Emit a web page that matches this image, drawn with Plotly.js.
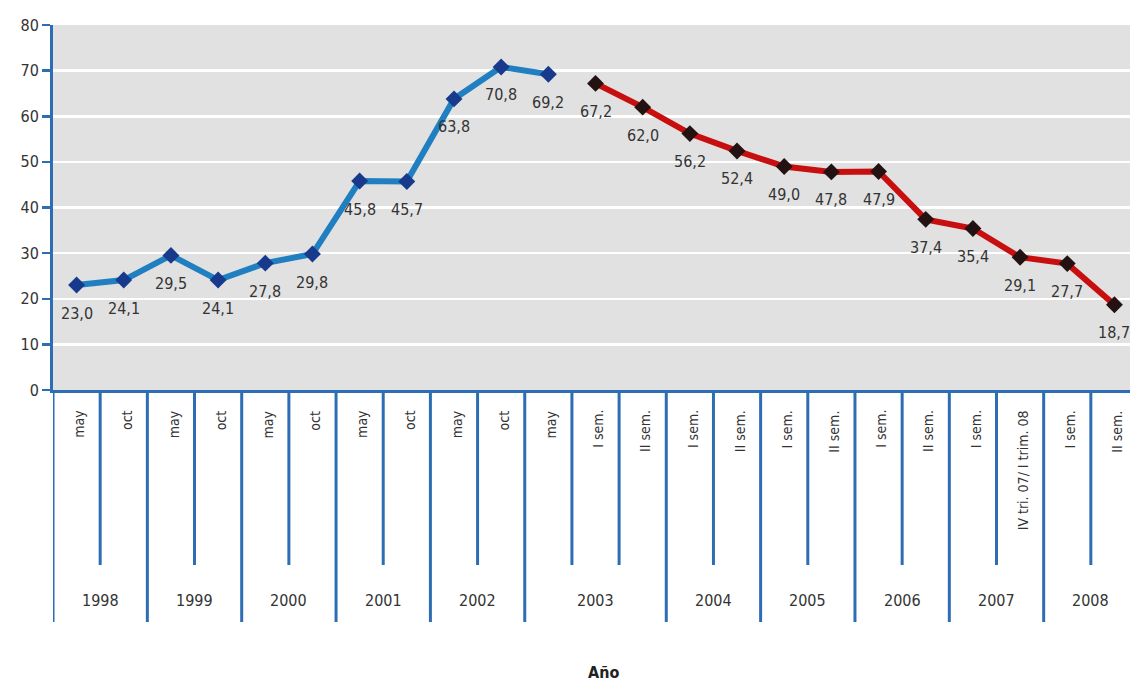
<!DOCTYPE html>
<html>
<head>
<meta charset="utf-8">
<script src="https://cdn.plot.ly/plotly-3.0.1.min.js"></script>
<style>html,body{margin:0;padding:0;background:#fff;}#chart{width:1130px;height:684px;}</style>
</head>
<body>
<div id="chart"></div>
<script>
// Categories (year group + sub-period label)
const years = ["1998","1998","1999","1999","2000","2000","2001","2001","2002","2002","2003","2003","2003","2004","2004","2005","2005","2006","2006","2007","2007","2008","2008"];
const periods = ["may","oct","may","oct","may","oct","may","oct","may","oct","may","I sem.","II sem.","I sem.","II sem.","I sem.","II sem.","I sem.","II sem.","I sem.","IV tri. 07/ I trim. 08","I sem.","II sem."];
// Series 1 (blue): indices 0..10
const blueIdx = [0,1,2,3,4,5,6,7,8,9,10];
const blueVals = [23.0,24.1,29.5,24.1,27.8,29.8,45.8,45.7,63.8,70.8,69.2];
// Series 2 (red): indices 11..22
const redIdx = [11,12,13,14,15,16,17,18,19,20,21,22];
const redVals = [67.2,62.0,56.2,52.4,49.0,47.8,47.9,37.4,35.4,29.1,27.7,18.7];
const yTicks = [0,10,20,30,40,50,60,70,80];

const FONT = "'Liberation Sans Narrow','DejaVu Sans Condensed','Arial Narrow',sans-serif";
const AXBLUE = "#2d6db3";
const fmt = v => v.toFixed(1).replace('.', ',');

const traces = [
  {x: blueIdx, y: blueVals, type: 'scatter', mode: 'lines+markers',
   line: {color: '#1f7fc1', width: 6},
   marker: {symbol: 'diamond', size: 13, color: '#173a8c'}, cliponaxis: false},
  {x: redIdx, y: redVals, type: 'scatter', mode: 'lines+markers',
   line: {color: '#c80f0f', width: 6},
   marker: {symbol: 'diamond', size: 13, color: '#241212'}, cliponaxis: false}
];

const annotations = [];
blueIdx.forEach((xi, k) => annotations.push({x: xi, y: blueVals[k], xref: 'x', yref: 'y', text: fmt(blueVals[k]), showarrow: false, yshift: -28, font: {family: FONT, size: 16, color: '#333'}}));
redIdx.forEach((xi, k) => annotations.push({x: xi, y: redVals[k], xref: 'x', yref: 'y', text: fmt(redVals[k]), showarrow: false, yshift: -28, font: {family: FONT, size: 16, color: '#333'}}));

// Period labels (rotated)
periods.forEach((p, i) => annotations.push({x: i, xref: 'x', y: -0.05, yref: 'paper', text: p, textangle: -90, showarrow: false, xanchor: 'center', yanchor: 'top', xshift: 3, font: {family: FONT, size: 14, color: '#333'}}));

// Year labels + boundary shapes
const shapes = [];
const plotH = 365;
const yrBottom = -232 / plotH, subBottom = -175 / plotH;
let start = 0;
for (let i = 1; i <= years.length; i++) {
  if (i === years.length || years[i] !== years[start]) {
    annotations.push({x: (start + i - 1) / 2, xref: 'x', y: -210 / plotH, yref: 'paper', text: years[start], showarrow: false, xanchor: 'center', yanchor: 'middle', font: {family: FONT, size: 16, color: '#333'}});
    shapes.push({type: 'line', xref: 'x', yref: 'paper', x0: start - 0.5, x1: start - 0.5, y0: 0, y1: yrBottom, line: {color: AXBLUE, width: 3}});
    for (let j = start + 1; j < i; j++) {
      shapes.push({type: 'line', xref: 'x', yref: 'paper', x0: j - 0.5, x1: j - 0.5, y0: 0, y1: subBottom, line: {color: AXBLUE, width: 3}});
    }
    start = i;
  }
}
annotations.push({x: 0.511, xref: 'paper', y: -282 / plotH, yref: 'paper', text: '<b>Año</b>', showarrow: false, xanchor: 'center', yanchor: 'middle', font: {family: FONT, size: 16, color: '#222'}});

const layout = {
  width: 1130, height: 684,
  margin: {l: 53, r: 0, t: 25, b: 294},
  paper_bgcolor: '#ffffff', plot_bgcolor: '#e1e1e1',
  showlegend: false,
  xaxis: {range: [-0.5, 22.33], showgrid: false, zeroline: false, showticklabels: false, ticks: '',
          showline: true, linecolor: AXBLUE, linewidth: 3, fixedrange: true},
  yaxis: {range: [0, 80], tickvals: yTicks, ticktext: yTicks.map(String), showgrid: true, gridcolor: '#ffffff', gridwidth: 2.5,
          zeroline: false, showline: true, linecolor: AXBLUE, linewidth: 3, ticks: 'outside', ticklen: 8, tickwidth: 2.5, tickcolor: AXBLUE,
          tickfont: {family: FONT, size: 16, color: '#333'}, fixedrange: true},
  annotations: annotations, shapes: shapes
};
Plotly.newPlot('chart', traces, layout, {displayModeBar: false, staticPlot: true});
</script>
</body>
</html>
